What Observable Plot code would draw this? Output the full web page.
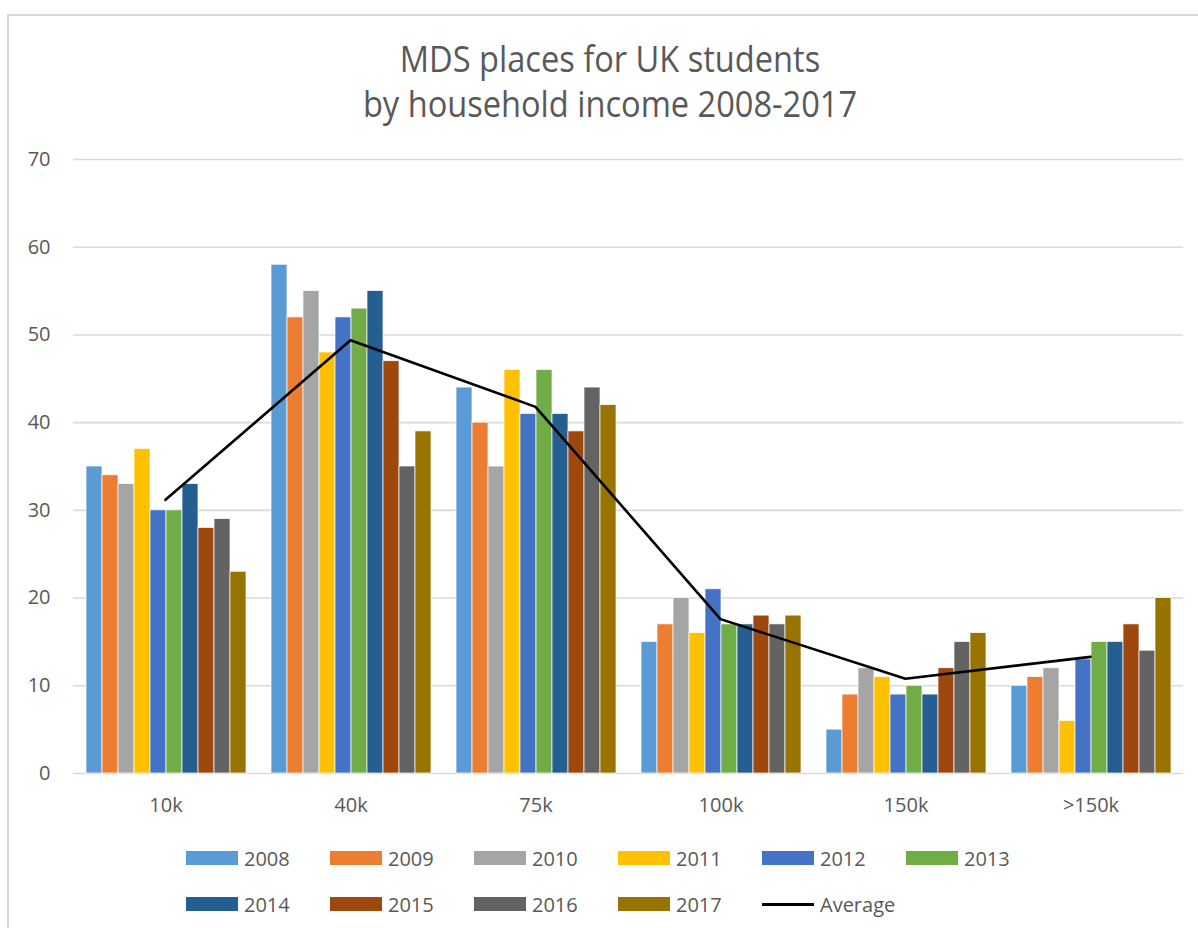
<!DOCTYPE html>
<html>
<head>
<meta charset="utf-8">
<script src="https://cdn.jsdelivr.net/npm/d3@7"></script>
<script src="https://cdn.jsdelivr.net/npm/@observablehq/plot@0.6"></script>
<style>
  html, body { margin: 0; padding: 0; background: #fff; overflow: hidden; }
  #chart { position: relative; width: 1198px; height: 928px; overflow: hidden; font-family: "Open Sans", sans-serif; color: #595959; }
  #frame { position: absolute; left: 7px; top: 14px; width: 1400px; height: 1100px; border: 2px solid #d9d9d9; box-sizing: border-box; }
  .title { position: absolute; left: 0; width: 1220px; text-align: center; font-size: 32.6px; line-height: 44px; color: #595959; white-space: nowrap; transform: scaleY(1.1); transform-origin: 50% 50%; }
  .layer { position: absolute; left: 0; top: 0; }
  .legend-item { position: absolute; display: flex; align-items: center; height: 30px; font-size: 20px; color: #595959; white-space: nowrap; }
  .legend-item .sw { width: 52px; height: 14px; margin-right: 6px; }
  .legend-item .ln { width: 52px; height: 3px; background: #000; margin-right: 6px; }
</style>
</head>
<body>
<div id="chart">
  <div id="frame"></div>
  <div class="title" style="top:37px">MDS places for UK students</div>
  <div class="title" style="top:82px">by household income 2008-2017</div>
</div>
<script>
// ---- data ----
const categories = ["10k", "40k", "75k", "100k", "150k", ">150k"];
const years = ["2008", "2009", "2010", "2011", "2012", "2013", "2014", "2015", "2016", "2017"];
const colors = ["#5B9BD5", "#ED7D31", "#A5A5A5", "#FFC000", "#4472C4", "#70AD47", "#255E91", "#9E480E", "#636363", "#997300"];
const v2008 = [35, 58, 44, 15, 5, 10];
const v2009 = [34, 52, 40, 17, 9, 11];
const v2010 = [33, 55, 35, 20, 12, 12];
const v2011 = [37, 48, 46, 16, 11, 6];
const v2012 = [30, 52, 41, 21, 9, 13];
const v2013 = [30, 53, 46, 17, 10, 15];
const v2014 = [33, 55, 41, 17, 9, 15];
const v2015 = [28, 47, 39, 18, 12, 17];
const v2016 = [29, 35, 44, 17, 15, 14];
const v2017 = [23, 39, 42, 18, 16, 20];
const average = [31.2, 49.4, 41.8, 17.6, 10.8, 13.3];
const yTicks = [0, 10, 20, 30, 40, 50, 60, 70];
const legendLabels = [...years, "Average"];

const series = [v2008, v2009, v2010, v2011, v2012, v2013, v2014, v2015, v2016, v2017];
const table = years.flatMap((yr, i) => categories.map((c, j) => ({category: c, year: yr, value: series[i][j]})));
const avgTable = categories.map((c, j) => ({category: c, value: average[j]}));

const W = 1198, H = 830;
const margins = {marginTop: 159, marginBottom: 57, marginLeft: 72, marginRight: 15};
const baseStyle = {fontFamily: "'Open Sans', sans-serif", fontSize: "20px", color: "#595959", background: "transparent", overflow: "visible"};

const bars = Plot.plot({
  width: W, height: H, ...margins,
  style: baseStyle,
  fx: {domain: categories, padding: 0, label: null, axis: "bottom", tickSize: 0, tickPadding: 24},
  x: {domain: years, paddingInner: 0, paddingOuter: 0.75, axis: null},
  y: {domain: [0, 70], ticks: yTicks, label: null, tickSize: 0, tickPadding: 23},
  color: {domain: years, range: colors},
  marks: [
    Plot.ruleY(yTicks, {stroke: "#d9d9d9", strokeWidth: 1.6}),
    Plot.barY(table, {fx: "category", x: "year", y: "value", fill: "year", stroke: "white", strokeWidth: 0.7})
  ]
});
bars.classList.add("layer");

const line = Plot.plot({
  width: W, height: H, ...margins,
  style: baseStyle,
  x: {type: "point", domain: categories, padding: 0.5, axis: null},
  y: {domain: [0, 70], axis: null},
  marks: [
    Plot.line(avgTable, {x: "category", y: "value", stroke: "#000", strokeWidth: 2.6})
  ]
});
line.classList.add("layer");

const chart = document.getElementById("chart");
chart.appendChild(bars);
chart.appendChild(line);

// legend (HTML)
legendLabels.forEach((lab, i) => {
  const row = i < 6 ? 0 : 1;
  const col = i < 6 ? i : i - 6;
  const item = document.createElement("div");
  item.className = "legend-item";
  item.style.left = (186 + col * 144) + "px";
  item.style.top = (row === 0 ? 843 : 889) + "px";
  const sw = document.createElement("div");
  if (i < years.length) { sw.className = "sw"; sw.style.background = colors[i]; }
  else { sw.className = "ln"; }
  const tx = document.createElement("span");
  tx.textContent = lab;
  item.appendChild(sw);
  item.appendChild(tx);
  chart.appendChild(item);
});
</script>
</body>
</html>
